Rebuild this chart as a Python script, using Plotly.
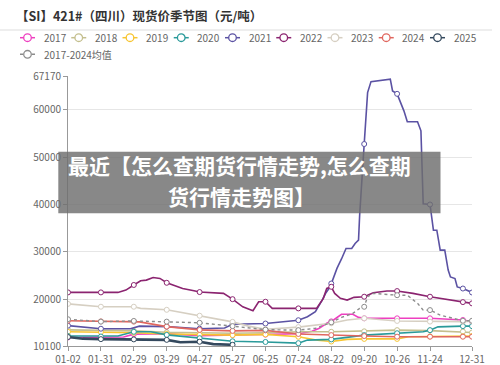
import pandas as pd
import plotly.graph_objects as go

# ---------------- data ----------------
_all = pd.date_range("2024-01-02", "2024-12-31", freq="D").strftime("%m-%d").tolist()
_skip = {"05-01", "10-01", "10-02", "10-03", "10-04", "10-05", "10-06", "10-07"}
categories = [d for d in _all if d not in _skip]

tick_labels = ["01-02", "01-31", "02-29", "03-29", "04-27", "05-27", "06-25",
               "07-24", "08-22", "09-20", "10-26", "11-24", "12-31"]
marker_dates = categories[::29] + [categories[-1]]

y_ticks = [10100, 20000, 30000, 40000, 50000, 60000, 67170]

s2017_x = ["01-02", "01-31", "02-20", "02-29", "03-29", "04-27", "05-27", "06-25", "07-24", "08-05",
           "08-11", "08-18", "08-22", "08-24", "08-31", "09-10", "09-15", "09-20", "10-26", "11-24",
           "12-23", "12-31"]
s2017_y = [11900, 11900, 12000, 12600, 12700, 12300, 12400, 12500, 12700, 13200,
           13800, 14900, 15300, 15600, 16800, 16800, 16150, 15950, 15950, 15950,
           15600, 15250]

s2018_x = ["01-02", "01-31", "02-29", "03-29", "04-27", "05-27", "06-25", "07-24", "08-22", "09-20",
           "10-26", "11-24", "12-23", "12-31"]
s2018_y = [13500, 13400, 13300, 13000, 12900, 12800, 12900, 13100, 13100, 13200,
           13450, 13350, 13150, 12950]

s2019_x = ["01-02", "01-31", "02-29", "03-29", "04-27", "05-27", "06-25", "07-24", "08-10", "08-22",
           "09-05", "09-20", "10-26", "11-05", "11-24", "12-23", "12-31"]
s2019_y = [13100, 13050, 12900, 12650, 12450, 12400, 12550, 12050, 11300, 11050,
           11500, 11600, 11600, 12050, 12100, 12150, 12200]

s2020_x = ["01-02", "01-31", "02-15", "02-29", "03-15", "03-29", "04-27", "05-27", "06-25", "07-24",
           "08-01", "08-22", "09-20", "10-26", "11-18", "11-24", "12-01", "12-23", "12-31"]
s2020_y = [12200, 12100, 12200, 13100, 13100, 12450, 11750, 11100, 10950, 10700,
           11350, 11500, 12400, 12800, 13100, 13450, 14150, 14300, 14300]

s2021_x = ["01-02", "01-31", "02-26", "03-05", "03-29", "04-27", "05-20", "05-27", "06-25", "07-10",
           "07-24", "08-01", "08-08", "08-14", "08-17", "08-21", "08-22", "08-24", "08-27", "08-31",
           "09-04", "09-09", "09-12", "09-15", "09-16", "09-20", "09-23", "09-26", "10-14", "10-20",
           "10-22", "10-26", "11-01", "11-04", "11-13", "11-16", "11-18", "11-24", "11-27", "11-30",
           "12-03", "12-07", "12-10", "12-12", "12-16", "12-18", "12-23", "12-31"]
s2021_y = [14400, 13750, 13750, 14300, 14200, 13750, 13900, 14700, 14850, 15200,
           15550, 16280, 17340, 19810, 21220, 22620, 23300, 24500, 26500, 28500,
           30720, 30720, 31770, 32470, 37730, 52790, 63660, 65980, 66270, 66500,
           64010, 63400, 59800, 57490, 57490, 55590, 40150, 40010, 34570, 34570,
           30360, 30360, 26140, 24700, 24360, 22590, 22250, 21410]

s2022_x = ["01-02", "01-31", "02-15", "02-22", "02-26", "02-29", "03-06", "03-11", "03-17", "03-23",
           "03-29", "04-04", "04-12", "04-22", "04-27", "05-19", "05-27", "06-05", "06-14", "06-19",
           "06-25", "07-01", "07-24", "08-09", "08-15", "08-18", "08-22", "08-25", "08-30", "09-05",
           "09-11", "09-20", "09-28", "10-17", "10-26", "11-09", "11-24", "12-09", "12-23", "12-31"]
s2022_y = [21430, 21430, 21430, 21920, 22620, 23000, 23880, 24030, 24590, 24380,
           23460, 22970, 22270, 21770, 21500, 21220, 20000, 18390, 17550, 19450,
           19450, 18050, 18050, 18050, 20170, 22270, 22620, 21220, 20170, 19800,
           20380, 20520, 21350, 21710, 21710, 21220, 20520, 19950, 19380, 19110]

s2023_x = ["01-02", "01-31", "02-29", "03-06", "03-29", "04-27", "05-27", "06-10", "06-25", "07-24",
           "08-22", "09-05", "09-20", "10-26", "11-24", "12-23", "12-31"]
s2023_y = [19000, 18400, 18400, 18050, 17750, 16500, 15200, 14300, 13650, 14100,
           14900, 15600, 15950, 15400, 15250, 15250, 15350]

s2024_x = ["01-02", "01-31", "02-29", "03-05", "03-29", "04-27", "05-27", "06-25", "07-24", "08-22",
           "09-20", "10-26", "11-24", "12-23", "12-31"]
s2024_y = [15450, 15300, 15250, 15200, 14200, 13500, 13300, 13400, 12650, 12400,
           12200, 12070, 12070, 12070, 12070]

s2025_x = ["01-02", "01-15", "01-31", "02-29", "03-29", "04-10", "04-27", "05-10", "05-27"]
s2025_y = [12000, 11650, 11550, 11500, 11400, 10900, 11000, 10500, 10350]

avg_x = ["01-02", "01-31", "02-29", "03-29", "04-27", "05-27", "06-25", "07-24", "08-08", "08-22",
         "08-31", "09-10", "09-16", "09-20", "09-23", "09-28", "10-26", "11-04", "11-13", "11-18",
         "11-24", "12-03", "12-15", "12-23", "12-31"]
avg_y = [15750, 15250, 15400, 15250, 15000, 14300, 13550, 13450, 13830, 15100,
         16150, 16990, 18050, 18390, 20520, 21220, 20840, 20840, 19110, 17690,
         17690, 16630, 15940, 15440, 15440]

series = [
    ("2017", s2017_x, s2017_y, "#ee3fc0", 1.6, "solid"),
    ("2018", s2018_x, s2018_y, "#c4bf8e", 1.6, "solid"),
    ("2019", s2019_x, s2019_y, "#f7c531", 1.6, "solid"),
    ("2020", s2020_x, s2020_y, "#2a9a9a", 1.6, "solid"),
    ("2021", s2021_x, s2021_y, "#5b52a3", 1.6, "solid"),
    ("2022", s2022_x, s2022_y, "#8b2470", 1.6, "solid"),
    ("2023", s2023_x, s2023_y, "#d6cfc2", 1.6, "solid"),
    ("2024", s2024_x, s2024_y, "#e0675f", 1.6, "solid"),
    ("2025", s2025_x, s2025_y, "#34495e", 2.6, "solid"),
    ("2017-2024均值", avg_x, avg_y, "#8c8c8c", 1.4, "dot"),
]

# ---------------- figure ----------------
fig = go.Figure()
for name, xs, ys, color, lw, dash in series:
    fig.add_trace(go.Scatter(x=xs, y=ys, mode="lines", name=name, showlegend=False,
                             line=dict(color=color, width=lw, dash=dash)))
    mx = [x for x in xs if x in marker_dates]
    my = [y for x, y in zip(xs, ys) if x in marker_dates]
    fig.add_trace(go.Scatter(x=mx, y=my, mode="markers", name=name, showlegend=False,
                             marker=dict(symbol="circle", size=5, color="white",
                                         line=dict(color=color, width=1))))

L, R, T, B = 68, 28, 76, 19
W, H = 500, 365
pw, ph = W - L - R, H - T - B


def px(xp):
    return (xp - L) / pw


def py(yp):
    return (H - B - yp) / ph


shapes = [
    dict(type="line", xref="paper", yref="paper", x0=px(0), x1=px(492), y0=py(30), y1=py(30),
         line=dict(color="#dddddd", width=1), layer="above"),
]
annotations = []

# legend (drawn as shapes + text)
for i, (name, xs, ys, color, lw, dash) in enumerate(series):
    if i < 9:
        x0, yc = 20 + 51.25 * i, 37.7
    else:
        x0, yc = 20, 54.3
    shapes.append(dict(type="line", xref="paper", yref="paper", x0=px(x0), x1=px(x0 + 15),
                       y0=py(yc), y1=py(yc), line=dict(color=color, width=1.5,
                                                       dash="dot" if dash == "dot" else "solid")))
    shapes.append(dict(type="circle", xref="paper", yref="paper", xsizemode="pixel",
                       ysizemode="pixel", xanchor=px(x0 + 7.5), yanchor=py(yc),
                       x0=-3.8, x1=3.8, y0=-3.8, y1=3.8, fillcolor="white",
                       line=dict(color=color, width=1.3)))
    annotations.append(dict(xref="paper", yref="paper", x=px(x0 + 21.5), y=py(yc),
                            xanchor="left", yanchor="middle", text=name, showarrow=False,
                            font=dict(size=10, color="#666666")))

# watermark overlay
shapes.append(dict(type="rect", xref="paper", yref="paper", x0=px(58.3), x1=px(440.5),
                   y0=py(213.3), y1=py(151.7), fillcolor="rgba(110,110,110,0.82)",
                   line=dict(width=0), layer="above"))
wm_font = dict(size=21, color="white", weight="bold", family="Noto Sans CJK SC")
annotations.append(dict(xref="paper", yref="paper", x=px(239), y=py(165), xanchor="center",
                        yanchor="middle", text="最近【怎么查期货行情走势,怎么查期",
                        showarrow=False, font=wm_font))
annotations.append(dict(xref="paper", yref="paper", x=px(241.5), y=py(196), xanchor="center",
                        yanchor="middle", text="货行情走势图】",
                        showarrow=False, font=wm_font))

fig.update_layout(
    width=W, height=H,
    margin=dict(l=L, r=R, t=T, b=B),
    paper_bgcolor="white", plot_bgcolor="white",
    showlegend=False,
    font=dict(family="Noto Sans CJK SC, Noto Sans", size=10, color="#666666"),
    title=dict(text="【SI】421#（四川）现货价季节图（元/吨）", x=16 / W, xanchor="left",
               xref="container", y=1 - 17 / H, yanchor="middle", yref="container",
               font=dict(size=12.5, color="#333333", weight="bold")),
    xaxis=dict(type="category", categoryorder="array", categoryarray=categories,
               range=[0, len(categories) - 1], tickmode="array", tickvals=tick_labels,
               ticktext=tick_labels, showgrid=False, showline=True, linecolor="#999999",
               linewidth=1, ticks="outside", ticklen=4, tickcolor="#999999", automargin=False,
               tickfont=dict(size=10, color="#666666"), fixedrange=True, zeroline=False),
    yaxis=dict(range=[10100, 67170], tickmode="array", tickvals=y_ticks,
               ticktext=[str(v) for v in y_ticks], automargin=False,
               showgrid=True, gridcolor="#e6e6e6", gridwidth=1, showline=True,
               linecolor="#999999", linewidth=1, ticks="outside", ticklen=4,
               tickcolor="#999999", tickfont=dict(size=10, color="#666666"),
               zeroline=False, fixedrange=True),
    shapes=shapes,
    annotations=annotations,
)

fig.write_html("out.html")
